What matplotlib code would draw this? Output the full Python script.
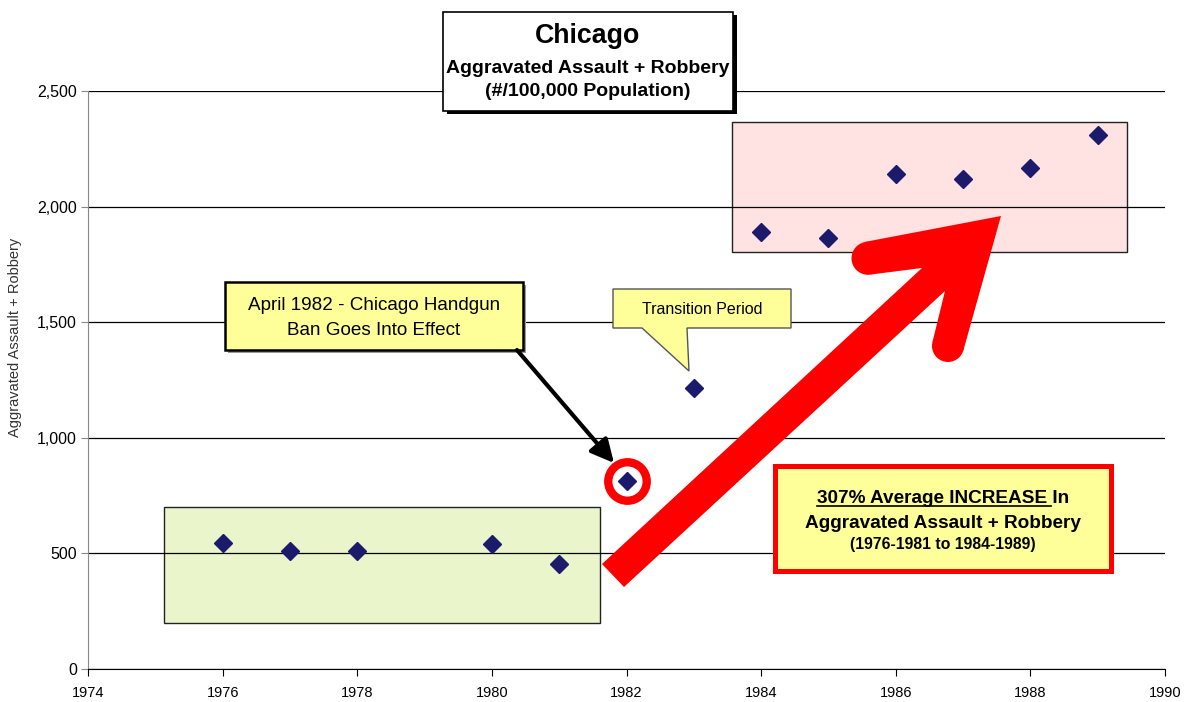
import matplotlib
matplotlib.use('Agg')
import matplotlib.pyplot as plt
from matplotlib.patches import Rectangle, Polygon, Circle, FancyArrowPatch
from matplotlib.lines import Line2D
from matplotlib.transforms import Affine2D
from matplotlib.ticker import StrMethodFormatter

plt.rcParams['font.family'] = ['Liberation Sans', 'DejaVu Sans']

# data
years = [1976, 1977, 1978, 1980, 1981, 1982, 1983, 1984, 1985, 1986, 1987, 1988, 1989]
rates = [544, 510, 510, 541, 454, 813, 1215, 1889, 1863, 2140, 2121, 2168, 2310]
ban_year = 1982

# shaded periods (years, rate range)
before_years = (1975.13, 1981.61)
before_rates = (200, 700)
after_years = (1983.57, 1989.43)
after_rates = (1805, 2365)

title = 'Chicago'
subtitle = ['Aggravated Assault + Robbery', '(#/100,000 Population)']
ylabel = 'Aggravated Assault + Robbery'

W, H = 1187, 702
fig = plt.figure(figsize=(W / 100, H / 100), dpi=100)
ax = fig.add_axes([88 / W, 1 - 669 / H, (1165 - 88) / W, (669 - 91) / H])

# pixel coords with origin at top-left, for the annotation shapes
pix = Affine2D().scale(1, -1).translate(0, H)

# shaded boxes
ax.add_patch(Rectangle((before_years[0], before_rates[0]), before_years[1] - before_years[0],
                       before_rates[1] - before_rates[0], fc='#EAF5CB', ec='#222222', lw=1.0, zorder=0.1))
ax.add_patch(Rectangle((after_years[0], after_rates[0]), after_years[1] - after_years[0],
                       after_rates[1] - after_rates[0], fc='#FFE3E3', ec='#222222', lw=1.0, zorder=0.1))

# points
ax.plot(years, rates, 'D', ls='none', color='#1B1A6B', ms=9, zorder=3)
i = years.index(ban_year)
ax.plot(years[i], rates[i], 'o', ms=27.7, mfc='none', mec='red', mew=6, zorder=3)

ax.set_xlim(1974, 1990)
ax.set_ylim(0, 2500)
ax.set_xticks(range(1974, 1991, 2))
ax.set_yticks(range(0, 2501, 500))
ax.yaxis.set_major_formatter(StrMethodFormatter('{x:,.0f}'))
ax.set_axisbelow(True)
ax.yaxis.grid(True, color='black', lw=0.9)
for s in ['top', 'right']:
    ax.spines[s].set_visible(False)
ax.spines['left'].set_color('#888888')
ax.spines['bottom'].set_color('black')
ax.tick_params(axis='y', length=5, color='#888888', labelsize=11.5, pad=3)
ax.tick_params(axis='x', length=5, color='black', labelsize=10.5, pad=7)

fig.text(15, 337, ylabel, transform=pix, rotation=90, ha='center', va='center',
         fontsize=10.5, color='#333333')

# title box
fig.add_artist(Rectangle((447, 15), 290, 99, transform=pix, fc='black', ec='none'))
fig.add_artist(Rectangle((443, 12), 290, 99, transform=pix, fc='white', ec='black', lw=1.2))
fig.text(588, 43, title, transform=pix, ha='center', va='baseline', fontsize=19.3, fontweight='bold')
fig.text(588, 73, subtitle[0], transform=pix, ha='center', va='baseline', fontsize=14, fontweight='bold')
fig.text(588, 96, subtitle[1], transform=pix, ha='center', va='baseline', fontsize=14, fontweight='bold')

# handgun ban box + arrow
fig.add_artist(Rectangle((228, 285), 298, 68, transform=pix, fc='#999999', ec='none'))
fig.add_artist(Rectangle((225, 282), 298, 68, transform=pix, fc='#FFFF99', ec='black', lw=1.8))
fig.text(374, 310, 'April 1982 - Chicago Handgun', transform=pix, ha='center', va='baseline', fontsize=13.6)
fig.text(374, 335, 'Ban Goes Into Effect', transform=pix, ha='center', va='baseline', fontsize=13.6)
fig.add_artist(FancyArrowPatch((517, 350), (614, 463), transform=pix,
                               arrowstyle='-|>,head_length=0.7,head_width=0.35', mutation_scale=20,
                               lw=3, color='black', shrinkA=0, shrinkB=0))

# transition callout
fig.add_artist(Polygon([(613, 289), (791, 289), (791, 328), (687, 328), (689, 371), (642, 328), (613, 328)],
                       closed=True, transform=pix, fc='#FFFF99', ec='#555555', lw=1))
fig.text(702, 314, 'Transition Period', transform=pix, ha='center', va='baseline', fontsize=11.5)

# big red arrow
fig.add_artist(Polygon([(602, 564), (922, 268), (871, 274.5), (864.5, 242), (1001, 216),
                        (963.5, 350), (932.5, 342), (945, 291), (624, 587)],
                       closed=True, transform=pix, fc='red', ec='none'))
fig.add_artist(Circle((868, 258.3), 16.5, transform=pix, fc='red', ec='none'))
fig.add_artist(Circle((948, 346), 16, transform=pix, fc='red', ec='none'))

# increase box
fs1 = 13.7
fig.add_artist(Rectangle((775, 466), 336, 105, transform=pix, fc='#FFFF99', ec='red', lw=3.6))
t1 = fig.text(943, 503, '307% Average INCREASE In', transform=pix, ha='center', va='baseline',
              fontsize=fs1, fontweight='bold')
fig.text(943, 528, 'Aggravated Assault + Robbery', transform=pix, ha='center', va='baseline',
         fontsize=fs1, fontweight='bold')
fig.text(943, 549.5, '(1976-1981 to 1984-1989)', transform=pix, ha='center', va='baseline',
         fontsize=11.3, fontweight='bold')

fig.canvas.draw()
r = fig.canvas.get_renderer()
bb = t1.get_window_extent(r)
probe = fig.text(0, 0, '307% Average INCREASE', fontsize=fs1, fontweight='bold')
w = probe.get_window_extent(r).width
probe.remove()
fig.add_artist(Line2D([bb.x0, bb.x0 + w + 4], [506, 506], transform=pix, color='black', lw=1.2))

fig.savefig('out.png', dpi=100)
